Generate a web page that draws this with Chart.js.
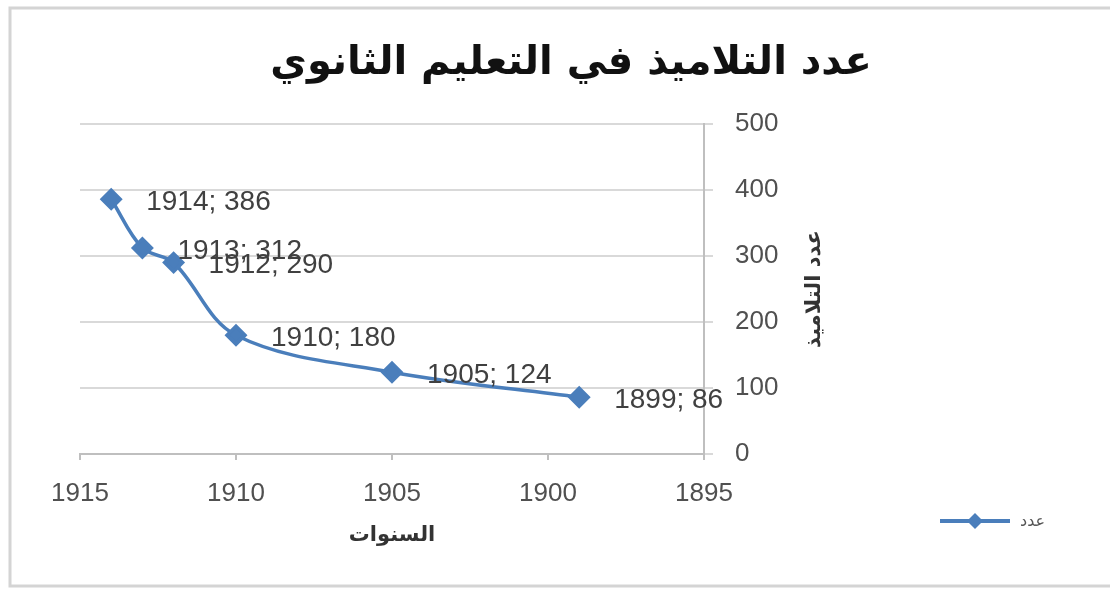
<!DOCTYPE html>
<html>
<head>
<meta charset="utf-8">
<script src="https://cdn.jsdelivr.net/npm/chart.js@4.4.1/dist/chart.umd.min.js"></script>
<style>
  body { margin: 0; background: #fff; }
  #wrap { width: 1110px; height: 589px; }
</style>
</head>
<body>
<div id="wrap"><canvas id="c"></canvas></div>
<script>
// السنوات / عدد التلاميذ
const years = [1914, 1913, 1912, 1910, 1905, 1899];
const pupils = [386, 312, 290, 180, 124, 86];
const xTicks = [1915, 1910, 1905, 1900, 1895];
const yTicks = [0, 100, 200, 300, 400, 500];

const chartTitle = "عدد التلاميذ في التعليم الثانوي";
const xTitle = "السنوات";
const yTitle = "عدد التلاميذ";
const seriesName = "عدد";

const blue = '#4a7ebb';

const points = years.map((y, i) => ({ x: y, y: pupils[i] }));

// العنوان، عناوين المحاور، التسميات، المفتاح والإطار
const decor = {
  id: 'decor',
  afterDraw(chart) {
    const ctx = chart.ctx;
    const xs = chart.scales.x;
    const ys = chart.scales.y;
    ctx.save();

    // frame
    ctx.strokeStyle = '#d4d4d4';
    ctx.lineWidth = 3;
    ctx.strokeRect(10, 8, 1110, 578);

    // title
    ctx.fillStyle = '#111';
    ctx.font = 'bold 40px "DejaVu Sans"';
    ctx.textAlign = 'center';
    ctx.textBaseline = 'middle';
    ctx.fillText(chartTitle, 571, 64);

    // data labels
    ctx.fillStyle = '#404040';
    ctx.font = '28px "Liberation Sans"';
    ctx.textAlign = 'left';
    const meta = chart.getDatasetMeta(0);
    meta.data.forEach((pt, i) => {
      ctx.fillText(years[i] + '; ' + pupils[i], pt.x + 35, pt.y + 3);
    });

    // x axis title
    ctx.fillStyle = '#333';
    ctx.font = 'bold 21px "DejaVu Sans"';
    ctx.textAlign = 'center';
    ctx.fillText(xTitle, (xs.left + xs.right) / 2, 536);

    // y axis title
    ctx.save();
    ctx.translate(815, (ys.top + ys.bottom) / 2);
    ctx.rotate(-Math.PI / 2);
    ctx.fillText(yTitle, 0, 0);
    ctx.restore();

    // legend
    ctx.strokeStyle = blue;
    ctx.lineWidth = 4;
    ctx.beginPath();
    ctx.moveTo(940, 521);
    ctx.lineTo(1010, 521);
    ctx.stroke();
    ctx.fillStyle = blue;
    ctx.beginPath();
    ctx.moveTo(975, 513);
    ctx.lineTo(983, 521);
    ctx.lineTo(975, 529);
    ctx.lineTo(967, 521);
    ctx.closePath();
    ctx.fill();
    ctx.fillStyle = '#555';
    ctx.font = '16px "DejaVu Sans"';
    ctx.textAlign = 'left';
    ctx.fillText(seriesName, 1020, 522);

    ctx.restore();
  }
};

new Chart(document.getElementById('c'), {
  type: 'line',
  data: {
    datasets: [{
      label: seriesName,
      data: points,
      borderColor: blue,
      backgroundColor: blue,
      borderWidth: 3.5,
      tension: 0.35,
      pointStyle: 'rectRot',
      pointRadius: 9,
      pointHoverRadius: 9
    }]
  },
  options: {
    responsive: true,
    maintainAspectRatio: false,
    animation: false,
    layout: { padding: { left: 80, top: 124, right: 276, bottom: 75 } },
    plugins: {
      legend: { display: false },
      title: { display: false },
      tooltip: { enabled: false }
    },
    scales: {
      x: {
        type: 'linear',
        reverse: true,
        min: 1895,
        max: 1915,
        afterBuildTicks: s => { s.ticks = xTicks.map(v => ({ value: v })); },
        afterFit: s => { s.height = 60; },
        border: { color: '#bfbfbf', width: 2 },
        grid: { drawOnChartArea: false, color: '#bfbfbf', lineWidth: 2, tickLength: 6 },
        ticks: {
          color: '#505050',
          font: { family: 'Liberation Sans', size: 26 },
          padding: 18,
          callback: v => String(v)
        }
      },
      y: {
        position: 'right',
        min: 0,
        max: 500,
        afterBuildTicks: s => { s.ticks = yTicks.map(v => ({ value: v })); },
        afterFit: s => { s.width = 130; },
        border: { color: '#bfbfbf', width: 2 },
        grid: { color: '#d9d9d9', lineWidth: 2, tickLength: 9 },
        ticks: {
          color: '#505050',
          font: { family: 'Liberation Sans', size: 26 },
          padding: 22,
          callback: v => String(v)
        }
      }
    }
  },
  plugins: [decor]
});
</script>
</body>
</html>
